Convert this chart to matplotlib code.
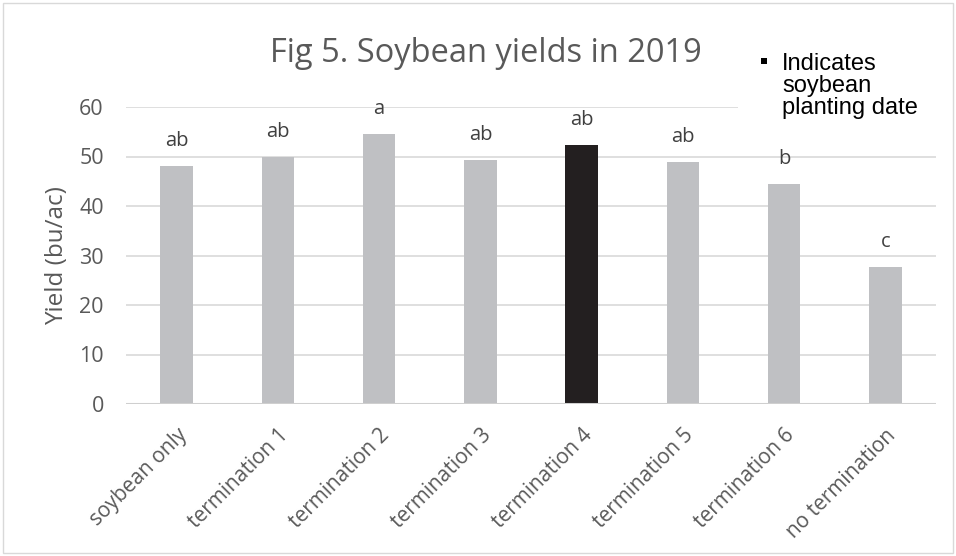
"""Soybean yields 2019 bar chart"""

import matplotlib
matplotlib.use("Agg")
import matplotlib.pyplot as plt
from matplotlib.patches import Rectangle

categories = ["soybean only", "termination 1", "termination 2", "termination 3",
              "termination 4", "termination 5", "termination 6", "no termination"]
yields = [48.1, 49.9, 54.6, 49.3, 52.3, 48.9, 44.5, 27.7]
letters = ["ab", "ab", "a", "ab", "ab", "ab", "b", "c"]
highlight = "termination 4"

GRAY_TEXT = "#595959"
FONT = "Open Sans"

fig = plt.figure(figsize=(9.56, 5.56), dpi=100)
ax = fig.add_axes([126 / 956, 1 - 404 / 556, 810 / 956, 297 / 556])

colors = ["#231f20" if c == highlight else "#bfc0c3" for c in categories]
x = range(len(categories))
ax.bar(x, yields, width=0.32, color=colors, zorder=3)

for xi, val, lab in zip(x, yields, letters):
    ax.annotate(lab, (xi, val), xytext=(0, 18), textcoords="offset points",
                ha="center", va="center", fontsize=14.5, color="#404040",
                family=FONT)

ax.set_xlim(-0.5, len(categories) - 0.5)
ax.set_ylim(0, 60)
ax.set_yticks(range(0, 61, 10))
ax.yaxis.grid(True, color="#d9d9d9", linewidth=1.2, zorder=0)
ax.set_axisbelow(True)
for side in ["top", "right", "left", "bottom"]:
    ax.spines[side].set_visible(False)
ax.axhline(0, color="#cfcfcf", linewidth=2.2, zorder=4)
ax.tick_params(length=0, labelcolor=GRAY_TEXT)
ax.tick_params(axis="y", pad=16, labelsize=15.5)
ax.tick_params(axis="x", pad=15)
ax.set_xticks(list(x))
ax.set_xticklabels(categories, rotation=45, ha="right", rotation_mode="anchor",
                   family=FONT, fontsize=15)
for t in ax.get_yticklabels():
    t.set_family(FONT)
ax.set_ylabel("Yield (bu/ac)", fontsize=17.5, color=GRAY_TEXT, family=FONT,
              labelpad=7)

fig.text(486 / 956, 1 - 53 / 556, "Fig 5. Soybean yields in 2019", ha="center",
         va="center", fontsize=23.5, color=GRAY_TEXT, family=FONT)

# note box covering the gridline in the upper right
fig.patches.append(Rectangle((738 / 956, 1 - 140 / 556), 200 / 956, 105 / 556,
                             transform=fig.transFigure, facecolor="white",
                             edgecolor="none", zorder=5))
fig.patches.append(Rectangle((761 / 956, 1 - 64 / 556), 6 / 956, 6 / 556,
                             transform=fig.transFigure, facecolor="black",
                             edgecolor="none", zorder=6))
fig.text(782 / 956, 1 - 53 / 556, "Indicates\nsoybean\nplanting date",
         ha="left", va="top", fontsize=17, color="black", zorder=6,
         family="Liberation Sans", linespacing=1.0)

# chart border
fig.patches.append(Rectangle((3 / 956, 3 / 556), 950 / 956, 550 / 556,
                             transform=fig.transFigure, facecolor="none",
                             edgecolor="#d9d9d9", linewidth=1))

fig.savefig("out.png", dpi=100)
